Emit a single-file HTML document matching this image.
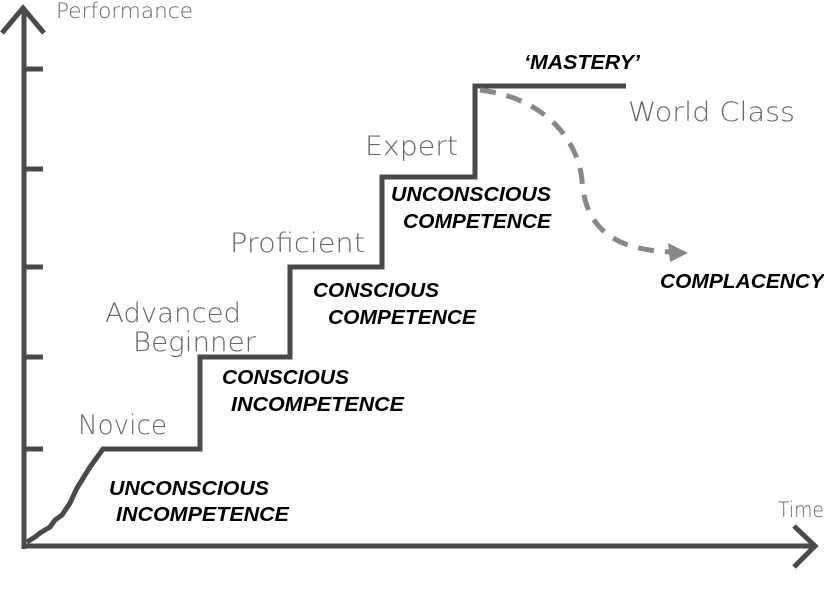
<!DOCTYPE html>
<html><head><style>
body{margin:0;background:#fff;width:824px;height:609px;overflow:hidden}
svg{display:block}
.b{font-family:"Liberation Sans",sans-serif;font-weight:bold;font-style:italic;font-size:20px;fill:#000}
.g{font-family:"DejaVu Sans","Liberation Sans",sans-serif;font-size:27px;fill:#666;font-weight:200}
</style></head><body>
<svg width="824" height="609" viewBox="0 0 824 609">
<g stroke="#4a4a4a" stroke-width="5" fill="none">
<line x1="24" y1="10" x2="24" y2="549"/>
<line x1="22" y1="546" x2="814" y2="546"/>
<polyline points="2,33 23,8 44,33"/>
<polyline points="794,526 815,546 794,567"/>
<line x1="24" y1="69" x2="43" y2="69"/>
<line x1="24" y1="169" x2="43" y2="169"/>
<line x1="24" y1="267" x2="43" y2="267"/>
<line x1="24" y1="357" x2="43" y2="357"/>
<line x1="24" y1="449" x2="43" y2="449"/>
<polyline points="27,542 35,537 40,533 50,527 55,520 62,515 70,503 77,488 90,467 103,449 200,449 200,357 290,357 290,267 382,267 382,177 475,177 475,86 626,86" stroke-linejoin="miter"/>
</g>
<path d="M480,90 C545,98 578,140 582,180 C585,225 610,250 672,252" stroke="#888" stroke-width="5" fill="none" stroke-dasharray="16,11"/>
<polygon points="688,253 668,243 670,262" fill="#888"/>
<text class="g" x="56" y="18" style="font-size:21px" textLength="137" lengthAdjust="spacingAndGlyphs">Performance</text>
<text class="g" x="778" y="517" style="font-size:21px" textLength="46" lengthAdjust="spacingAndGlyphs">Time</text>
<text class="g" x="78" y="434" textLength="89" lengthAdjust="spacingAndGlyphs">Novice</text>
<text class="g" x="105" y="322" textLength="136" lengthAdjust="spacingAndGlyphs">Advanced</text>
<text class="g" x="133" y="351" textLength="123" lengthAdjust="spacingAndGlyphs">Beginner</text>
<text class="g" x="230" y="252" textLength="135" lengthAdjust="spacingAndGlyphs">Proficient</text>
<text class="g" x="365" y="155" textLength="93" lengthAdjust="spacingAndGlyphs">Expert</text>
<text class="g" x="628" y="121" textLength="167" lengthAdjust="spacingAndGlyphs">World Class</text>
<text class="b" x="109" y="495" textLength="160" lengthAdjust="spacingAndGlyphs">UNCONSCIOUS</text>
<text class="b" x="116" y="521" textLength="173" lengthAdjust="spacingAndGlyphs">INCOMPETENCE</text>
<text class="b" x="222" y="384" textLength="127" lengthAdjust="spacingAndGlyphs">CONSCIOUS</text>
<text class="b" x="231" y="411" textLength="173" lengthAdjust="spacingAndGlyphs">INCOMPETENCE</text>
<text class="b" x="313" y="297" textLength="126" lengthAdjust="spacingAndGlyphs">CONSCIOUS</text>
<text class="b" x="328" y="324" textLength="148" lengthAdjust="spacingAndGlyphs">COMPETENCE</text>
<text class="b" x="391" y="201" textLength="160" lengthAdjust="spacingAndGlyphs">UNCONSCIOUS</text>
<text class="b" x="403" y="228" textLength="148" lengthAdjust="spacingAndGlyphs">COMPETENCE</text>
<text class="b" x="524" y="69" textLength="116" lengthAdjust="spacingAndGlyphs">‘MASTERY’</text>
<text class="b" x="660" y="288" textLength="164" lengthAdjust="spacingAndGlyphs">COMPLACENCY</text>
</svg>
</body></html>
